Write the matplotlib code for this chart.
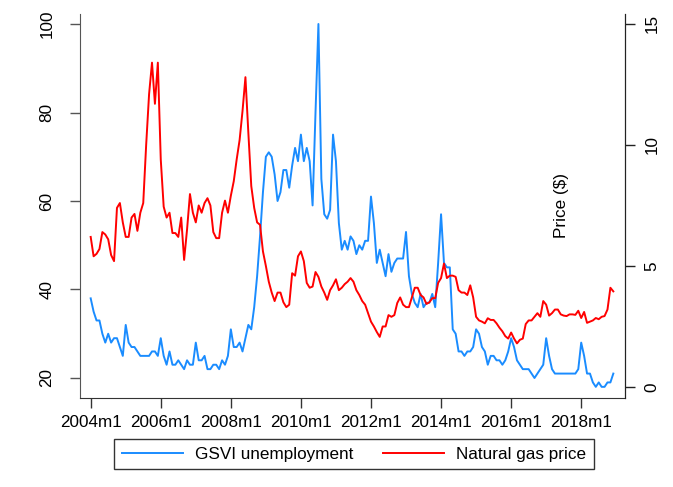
import matplotlib
matplotlib.use("Agg")
import matplotlib.pyplot as plt
from matplotlib.lines import Line2D
import numpy as np

# monthly series, 2004m1 .. 2018m12
gsvi_unemployment = [
    38, 35, 33, 33, 30, 28, 30, 28, 29, 29, 27, 25,      # 2004
    32, 28, 27, 27, 26, 25, 25, 25, 25, 26, 26, 25,      # 2005
    29, 25, 23, 26, 23, 23, 24, 23, 22, 24, 23, 23,      # 2006
    28, 24, 24, 25, 22, 22, 23, 23, 22, 24, 23, 25,      # 2007
    31, 27, 27, 28, 26, 29, 32, 31, 36, 43, 52, 62,      # 2008
    70, 71, 70, 66, 60, 62, 67, 67, 63, 68, 72, 69,      # 2009
    75, 69, 72, 69, 59, 80, 100, 65, 57, 56, 58, 75,     # 2010
    69, 55, 49, 51, 49, 52, 51, 48, 50, 49, 51, 51,      # 2011
    61, 55, 46, 49, 46, 43, 48, 44, 46, 47, 47, 47,      # 2012
    53, 43, 39, 37, 36, 39, 36, 37, 37, 39, 36, 46,      # 2013
    57, 46, 45, 45, 31, 30, 26, 26, 25, 26, 26, 27,      # 2014
    31, 30, 27, 26, 23, 25, 25, 24, 24, 23, 24, 26,      # 2015
    29, 27, 24, 23, 22, 22, 22, 21, 20, 21, 22, 23,      # 2016
    29, 25, 22, 21, 21, 21, 21, 21, 21, 21, 21, 22,      # 2017
    28, 25, 21, 21, 19, 18, 19, 18, 18, 19, 19, 21,      # 2018
]

gas_price = [
    6.2, 5.4, 5.5, 5.7, 6.4, 6.3, 6.1, 5.45, 5.2, 7.4, 7.6, 6.8,
    6.2, 6.2, 7.0, 7.15, 6.45, 7.2, 7.6, 10.0, 12.1, 13.4, 11.7, 13.4,
    9.4, 7.45, 7.0, 7.2, 6.36, 6.36, 6.2, 7.0, 5.25, 6.5, 7.97, 7.2,
    6.8, 7.5, 7.2, 7.6, 7.8, 7.5, 6.4, 6.15, 6.15, 7.2, 7.7, 7.2,
    7.9, 8.5, 9.4, 10.2, 11.4, 12.8, 10.5, 8.3, 7.4, 6.8, 6.7, 5.6,
    5.0, 4.35, 3.9, 3.55, 3.9, 3.9, 3.5, 3.3, 3.4, 4.7, 4.6, 5.4,
    5.6, 5.2, 4.3, 4.1, 4.15, 4.75, 4.55, 4.15, 3.9, 3.6, 4.0, 4.2,
    4.45, 4.0, 4.1, 4.25, 4.35, 4.5, 4.35, 4.0, 3.8, 3.55, 3.4, 3.05,
    2.7, 2.5, 2.27, 2.07, 2.5, 2.5, 2.97, 2.9, 2.97, 3.47, 3.7, 3.4,
    3.3, 3.3, 3.7, 4.1, 4.1, 3.8, 3.7, 3.43, 3.5, 3.67, 3.67, 4.3,
    4.5, 5.1, 4.5, 4.6, 4.6, 4.55, 4.0, 3.9, 3.9, 3.8, 4.2, 3.7,
    2.9, 2.75, 2.7, 2.63, 2.84, 2.77, 2.77, 2.63, 2.45, 2.3, 2.1, 2.0,
    2.25, 2.0, 1.8, 1.95, 2.0, 2.6, 2.75, 2.75, 2.9, 3.05, 2.9, 3.55,
    3.4, 2.95, 3.05, 3.2, 3.2, 3.0, 2.95, 2.93, 3.0, 3.0, 2.98, 3.15,
    2.85, 3.1, 2.65, 2.7, 2.75, 2.85, 2.8, 2.9, 2.93, 3.2, 4.1, 3.95,
]

xtick_months = [0, 24, 48, 72, 96, 120, 144, 168]
xtick_labels = ["2004m1", "2006m1", "2008m1", "2010m1",
                "2012m1", "2014m1", "2016m1", "2018m1"]
left_ticks = [20, 40, 60, 80, 100]
right_ticks = [0, 5, 10, 15]

plt.rcParams["font.family"] = ["Liberation Sans", "DejaVu Sans"]
plt.rcParams["font.size"] = 12.3

blue = "#1a8cff"
red = "#ff0000"

months = np.arange(len(gsvi_unemployment))

fig = plt.figure(figsize=(6.73, 4.87), dpi=100)
ax = fig.add_axes([80 / 673, 1 - 398 / 487, 545 / 673, 384 / 487])
ax2 = ax.twinx()

ax.plot(months, gsvi_unemployment, color=blue, lw=1.4)
ax2.plot(months, gas_price, color=red, lw=1.4)

ax.set_xlim(-3.66, 183)
ax.set_ylim(15.48, 102.26)
ax2.set_ylim(-0.455, 15.41)

ax.set_xticks(xtick_months)
ax.set_xticklabels(xtick_labels)
ax.set_yticks(left_ticks)
ax2.set_yticks(right_ticks)

for a in (ax, ax2):
    a.spines["top"].set_visible(False)
ax.spines["left"].set_color("#555555")
ax.spines["bottom"].set_color("#333333")
ax2.spines["right"].set_color("#222222")
ax2.spines["left"].set_visible(False)
ax2.spines["bottom"].set_visible(False)

ax.tick_params(axis="x", length=7, width=1, color="#333333", pad=5)
ax.tick_params(axis="y", length=7, width=1, color="#555555", pad=11.5,
               labelrotation=90)
ax2.tick_params(axis="y", length=7, width=1, color="#222222", pad=7,
                labelrotation=90)
for lab in ax.get_yticklabels() + ax2.get_yticklabels():
    lab.set_va("center")

ax.text(0.8835, 0.5, "Price ($)", transform=ax.transAxes, rotation=90,
        ha="center", va="center")

handles = [Line2D([], [], color=blue, lw=1.4),
           Line2D([], [], color=red, lw=1.4)]
leg = fig.legend(handles, ["GSVI unemployment", "Natural gas price"],
                 loc="center", bbox_to_anchor=(354 / 673, 1 - 454 / 487),
                 ncol=2, frameon=True, fancybox=False, handlelength=3.6,
                 handletextpad=0.7, columnspacing=1.7, borderpad=0.45)
leg.get_frame().set_edgecolor("black")
leg.get_frame().set_linewidth(1.0)

fig.savefig("out.png", dpi=100)
